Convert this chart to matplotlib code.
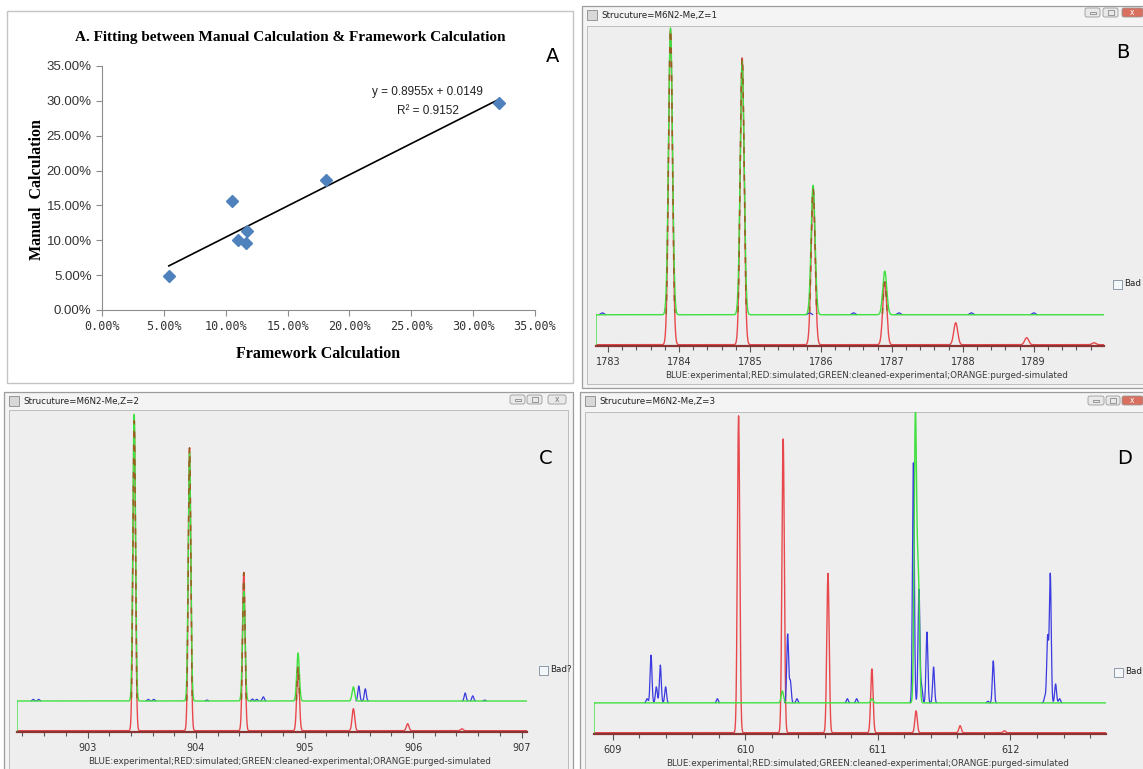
import numpy as np
import matplotlib
matplotlib.use('Agg')
import matplotlib.pyplot as plt
from matplotlib.patches import Rectangle, FancyBboxPatch
from matplotlib.ticker import MultipleLocator, FuncFormatter

W, H = 1143, 769

# A: manual vs framework calculation
framework_calc = [0.054, 0.105, 0.110, 0.116, 0.117, 0.181, 0.321]
manual_calc = [0.049, 0.156, 0.100, 0.0965, 0.113, 0.186, 0.297]
fit_slope, fit_intercept, fit_r2 = 0.8955, 0.0149, 0.9152

# B: Z=1 (intensities in % of plot height, red baseline = 0)
b_xlim = (1782.83, 1789.99)
b_base = 9.4
b_red_mz = [1783.88, 1784.89, 1785.89, 1786.90, 1787.90, 1788.90, 1789.85]
b_red = [98.8, 90.0, 48.8, 19.7, 6.9, 2.2, 0.6]
b_green_mz = [1783.88, 1784.89, 1785.89, 1786.90]
b_green = [99.4, 88.8, 50.0, 23.1]
b_blue_mz = [1782.92, 1785.84, 1786.46, 1787.10, 1788.12, 1789.00]
b_blue = [10.0, 10.0, 10.0, 10.0, 10.0, 10.0]
b_orange_mz = [1783.88, 1784.89, 1785.89, 1786.90]
b_orange = [98.8, 90.0, 48.8, 19.7]

# C: Z=2
c_xlim = (902.35, 907.05)
c_base = 9.3
c_red_mz = [903.43, 903.94, 904.44, 904.94, 905.45, 905.95, 906.45]
c_red = [97.0, 88.5, 49.5, 20.0, 6.9, 2.2, 0.6]
c_green_mz = [903.43, 903.94, 904.44, 904.94, 905.45]
c_green = [99.0, 87.2, 43.6, 24.3, 13.7]
c_blue_mz = [902.50, 902.55, 903.56, 903.61, 904.10, 904.52, 904.56, 904.62,
             905.50, 905.56, 906.48, 906.55, 906.66]
c_blue = [9.8, 9.8, 9.8, 9.8, 9.6, 9.9, 9.8, 10.6,
          14.0, 13.1, 11.8, 10.9, 9.6]
c_orange_mz = [903.43, 903.94, 904.44, 904.94]
c_orange = [97.0, 88.5, 49.5, 20.0]

# D: Z=3
d_xlim = (608.86, 612.72)
d_base = 9.3
d_red_mz = [609.95, 610.286, 610.624, 610.955, 611.288, 611.62, 611.954]
d_red = [98.8, 91.6, 49.7, 19.9, 6.8, 2.2, 0.6]
d_green_mz = [610.28, 610.955, 611.283, 611.305]
d_green = [13.0, 10.6, 98.8, 48.4]
d_blue_mz = [609.26, 609.29, 609.33, 609.36, 609.40, 609.79, 610.32, 610.34,
             610.39, 610.77, 610.84, 611.268, 611.31, 611.33, 611.37, 611.42,
             611.83, 611.87, 612.26, 612.28, 612.30, 612.34, 612.37]
d_blue = [10.6, 24.2, 14.3, 21.1, 14.3, 10.6, 30.7, 16.1,
          10.6, 10.6, 10.6, 84.2, 44.7, 14.6, 31.4, 20.5,
          9.8, 22.4, 11.2, 29.8, 49.4, 15.2, 10.6]

caption = 'BLUE:experimental;RED:simulated;GREEN:cleaned-experimental;ORANGE:purged-simulated'

RED = '#E8484C'
GREEN = '#3FE03F'
BLUE = '#3A3AE0'
ORANGE = '#9A5E22'


def px_rect(x0, y0, x1, y1):
    return [x0 / W, 1 - y1 / H, (x1 - x0) / W, (y1 - y0) / H]


def profile(x, base, mz, tops, sigma):
    y = np.full_like(x, base)
    for c, t in zip(mz, tops):
        y += (t - base) * np.exp(-0.5 * ((x - c) / sigma) ** 2)
    return y


fig = plt.figure(figsize=(W / 100, H / 100), dpi=100)
bg = fig.add_axes([0, 0, 1, 1])
bg.set_xlim(0, W)
bg.set_ylim(H, 0)
bg.axis('off')

# ---- panel A frame and texts
bg.add_patch(Rectangle((7, 11), 566, 372, fc='white', ec='#C4C4C4', lw=1.0))
serif = ['Liberation Serif', 'DejaVu Serif']
bg.text(290, 37, 'A. Fitting between Manual Calculation & Framework Calculation',
        ha='center', va='center', fontsize=11, fontweight='bold', family=serif)
bg.text(318, 354, 'Framework Calculation', ha='center', va='center',
        fontsize=11.5, fontweight='bold', family=serif)
bg.text(37, 190, 'Manual  Calculation', ha='center', va='center', rotation=90,
        fontsize=11.5, fontweight='bold', family=serif)
bg.text(553, 56, 'A', ha='center', va='center', fontsize=14, family='DejaVu Sans')
bg.text(427, 92, 'y = %.4fx + %.4f' % (fit_slope, fit_intercept), ha='center',
        va='center', fontsize=8.5, family='Liberation Sans', color='#222222')
bg.text(428, 111, 'R² = %.4f' % fit_r2, ha='center', va='center', fontsize=8.5,
        family='Liberation Sans', color='#222222')

axA = fig.add_axes(px_rect(102, 66, 535, 310))
axA.set_xlim(0, 0.35)
axA.set_ylim(0, 0.35)
axA.xaxis.set_major_locator(MultipleLocator(0.05))
axA.yaxis.set_major_locator(MultipleLocator(0.05))
pct = FuncFormatter(lambda v, p: '%.2f%%' % (v * 100))
axA.xaxis.set_major_formatter(pct)
axA.yaxis.set_major_formatter(pct)
for s in ['top', 'right']:
    axA.spines[s].set_visible(False)
for s in ['left', 'bottom']:
    axA.spines[s].set_color('#8C8C8C')
axA.tick_params(colors='#8C8C8C', length=4, width=0.8, labelcolor='#333333')
for t in axA.get_yticklabels():
    t.set_family(['Liberation Sans Narrow', 'Liberation Sans'])
    t.set_fontsize(9.5)
for t in axA.get_xticklabels():
    t.set_family('DejaVu Sans Mono')
    t.set_fontsize(8.5)
axA.patch.set_alpha(0)
xf = np.array([min(framework_calc), max(framework_calc)])
axA.plot(xf, fit_slope * xf + fit_intercept, color='black', lw=1.2)
axA.plot(framework_calc, manual_calc, 'D', ms=6.5, color='#4F81BD',
         mec='#4F81BD', clip_on=False)


# ---- spectrum windows
def window(x0, y0, x1, y1, title, content_top):
    bg.add_patch(Rectangle((x0, y0), x1 - x0, y1 - y0, fc='#F4F4F4', ec='#9C9C9C', lw=0.9))
    bg.add_patch(Rectangle((x0 + 5, content_top), x1 - x0 - 10, y1 - content_top - 4,
                           fc='#EEEEEE', ec='#BDBDBD', lw=0.7))
    bg.add_patch(Rectangle((x0 + 5, y0 + 4), 10, 10, fc='#D8D8D8', ec='#8A8A8A', lw=0.6))
    bg.text(x0 + 19, y0 + 9.5, title, ha='left', va='center', fontsize=6.3,
            family='DejaVu Sans', color='#222222')


def buttons(xs, y, h, close_red):
    for i, (bx0, bx1) in enumerate(xs):
        fc = '#D9705F' if (i == 2 and close_red) else '#E9E9E9'
        bg.add_patch(FancyBboxPatch((bx0, y), bx1 - bx0, h,
                                    boxstyle='round,pad=0,rounding_size=2',
                                    fc=fc, ec='#9A9A9A', lw=0.6))
        cx, cy = (bx0 + bx1) / 2, y + h / 2
        if i == 0:
            bg.add_patch(Rectangle((cx - 3, cy - 1), 6, 2, fc='none', ec='#777777', lw=0.5))
        elif i == 1:
            bg.add_patch(Rectangle((cx - 3, cy - 2.5), 6, 5, fc='none', ec='#777777', lw=0.5))
        else:
            bg.text(cx, cy, 'x', ha='center', va='center', fontsize=5.5,
                    color='white' if close_red else '#777777', family='DejaVu Sans')


def checkbox(x, y, label):
    bg.add_patch(Rectangle((x, y - 4.5), 9, 9, fc='#F4F7FA', ec='#8E9AA8', lw=0.7))
    bg.text(x + 11, y, label, ha='left', va='center', fontsize=6.3,
            family='DejaVu Sans', color='#222222')


def spectrum(rect, xlim, base, red, green, blue, orange, sigma, bsigma, ticks):
    ax = fig.add_axes(rect)
    ax.patch.set_alpha(0)
    ax.set_xlim(*xlim)
    ax.set_ylim(-0.4, 100)
    x = np.linspace(xlim[0], xlim[1], 6000)
    yr = profile(x, 0.0, red[0], red[1], sigma)
    ax.plot(x, yr, color=RED, lw=1.0, zorder=2)
    if blue:
        yb = profile(x, base, blue[0], blue[1], bsigma)
        yb[yb < base + 0.08] = np.nan
        ax.plot(x, yb, color=BLUE, lw=0.9, zorder=3)
    yg = profile(x, base, green[0], green[1], sigma)
    ax.plot(np.r_[xlim[0], x], np.r_[0.0, yg], color=GREEN, lw=1.0, zorder=4)
    if orange:
        yo = profile(x, 0.0, orange[0], orange[1], sigma)
        yo[yo < base] = np.nan
        ax.plot(x, yo, color=ORANGE, lw=1.1, ls=(0, (4, 5)), zorder=5)
    for s in ['top', 'right', 'left']:
        ax.spines[s].set_visible(False)
    ax.spines['bottom'].set_color('#8A3535')
    ax.spines['bottom'].set_linewidth(1.6)
    ax.set_yticks([])
    ax.set_xticks(ticks)
    ax.xaxis.set_minor_locator(MultipleLocator(0.2))
    ax.tick_params(axis='x', which='major', direction='out', length=4, width=0.8,
                   colors='#555555', labelsize=7, labelcolor='#333333', pad=4)
    ax.tick_params(axis='x', which='minor', direction='out', length=3, width=0.8,
                   colors='#555555')
    return ax


# B
window(582, 6, 1150, 388, 'Strucuture=M6N2-Me,Z=1', 26)
buttons([(1085, 1100), (1103, 1118), (1122, 1143)], 8, 9, True)
checkbox(1113, 284, 'Bad')
spectrum(px_rect(596, 26, 1104, 346), b_xlim, b_base,
         (b_red_mz, b_red), (b_green_mz, b_green), (b_blue_mz, b_blue),
         (b_orange_mz, b_orange), 0.028, 0.022, range(1783, 1790))
bg.text(867, 375, caption, ha='center', va='center', fontsize=6.3,
        family='DejaVu Sans', color='#3A3A3A')
bg.text(1123, 53, 'B', ha='center', va='center', fontsize=14, family='DejaVu Sans')

# C
window(4, 392, 573, 776, 'Strucuture=M6N2-Me,Z=2', 410)
buttons([(510, 525), (527, 542), (548, 566)], 395, 9, False)
checkbox(539, 670, 'Bad?')
spectrum(px_rect(17, 411, 527, 732), c_xlim, c_base,
         (c_red_mz, c_red), (c_green_mz, c_green), (c_blue_mz, c_blue),
         (c_orange_mz, c_orange), 0.012, 0.009, range(903, 908))
bg.text(290, 761, caption, ha='center', va='center', fontsize=6.3,
        family='DejaVu Sans', color='#3A3A3A')
bg.text(546, 459, 'C', ha='center', va='center', fontsize=14, family='DejaVu Sans')

# D
window(580, 392, 1150, 776, 'Strucuture=M6N2-Me,Z=3', 412)
buttons([(1088, 1104), (1106, 1120), (1122, 1143)], 396, 9, True)
checkbox(1114, 672, 'Bad')
spectrum(px_rect(594, 412, 1106, 734), d_xlim, d_base,
         (d_red_mz, d_red), (d_green_mz, d_green), (d_blue_mz, d_blue),
         None, 0.009, 0.007, range(609, 613))
bg.text(868, 763, caption, ha='center', va='center', fontsize=6.3,
        family='DejaVu Sans', color='#3A3A3A')
bg.text(1125, 458, 'D', ha='center', va='center', fontsize=14, family='DejaVu Sans')

fig.savefig('out.png', dpi=100)
